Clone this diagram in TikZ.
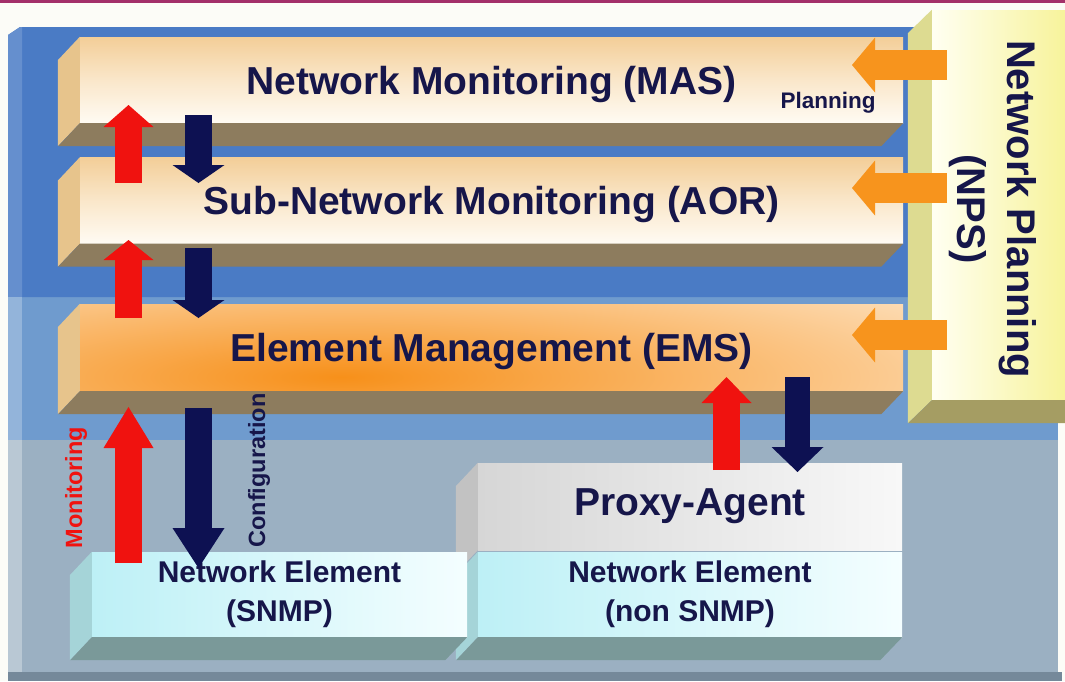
\documentclass[tikz,border=0pt]{standalone}
\usepackage{fontspec}
\setmainfont{Liberation Sans}
\usepackage{tikz}
\usetikzlibrary{arrows.meta}

\definecolor{pageback}{HTML}{FCFCF7}
\definecolor{topline}{HTML}{A3306A}
\definecolor{deepblue}{HTML}{4A7BC5}
\definecolor{midblue}{HTML}{6F9BCE}
\definecolor{greyblue}{HTML}{9BB0C2}
\definecolor{rimgrey}{HTML}{75899A}
\definecolor{labelnavy}{HTML}{16164A}
\definecolor{arrownavy}{HTML}{0D1152}
\definecolor{arrowred}{HTML}{F0120F}
\definecolor{arroworange}{HTML}{F7941D}
\definecolor{peach}{HTML}{F3CE98}
\definecolor{cream}{HTML}{FFFBF3}
\definecolor{tanside}{HTML}{E7C48C}
\definecolor{tanfloor}{HTML}{8D7C5E}
\definecolor{emsorange}{HTML}{F7901A}
\definecolor{iceblue}{HTML}{BDF0F6}
\definecolor{icewhite}{HTML}{F4FEFF}
\definecolor{iceside}{HTML}{A5D4D8}
\definecolor{icefloor}{HTML}{7A9999}
\definecolor{proxygrey}{HTML}{D6D6D6}
\definecolor{proxywhite}{HTML}{F8F8F8}
\definecolor{proxyside}{HTML}{C2C2C2}
\definecolor{npsyellow}{HTML}{F7F39B}
\definecolor{npswhite}{HTML}{FFFFF2}
\definecolor{npsside}{HTML}{DDDB91}
\definecolor{npsfloor}{HTML}{A59D63}

\begin{document}
\begin{tikzpicture}[x=1pt, y=-1pt,
  layer/.style={inner sep=0pt, minimum width=823pt, minimum height=86pt,
    top color=peach, bottom color=cream, middle color=peach!45!cream,
    text=labelnavy, font=\fontsize{39}{44}\selectfont\bfseries,
    text height=28pt, text depth=0pt},
  emslayer/.style={inner sep=0pt, minimum width=823pt, minimum height=87pt, fill=cream,
    text=labelnavy, font=\fontsize{39}{44}\selectfont\bfseries,
    text height=28pt, text depth=0pt,
    path picture={\shade[inner color=emsorange, outer color=cream]
      ([xshift=-150pt, yshift=14pt]path picture bounding box.south)
      ellipse [x radius=1000pt, y radius=175pt];}},
  netbox/.style={inner sep=0pt, minimum height=85pt, left color=iceblue, right color=icewhite,
    text=labelnavy, align=center, font=\fontsize{30}{39}\selectfont\bfseries},
  proxybox/.style={inner sep=0pt, minimum width=424pt, minimum height=87pt,
    left color=proxygrey, right color=proxywhite,
    text=labelnavy, font=\fontsize{39}{44}\selectfont\bfseries},
  npsface/.style={inner sep=0pt, minimum width=133pt, minimum height=390pt,
    left color=npswhite, right color=npsyellow},
  upflow/.style={color=arrowred, line width=27pt,
    -{Triangle[length=#1, width=50pt, line width=0pt]}},
  downflow/.style={color=arrownavy, line width=27pt,
    -{Triangle[length=#1, width=52pt, line width=0pt]}},
  planflow/.style={color=arroworange, line width=30pt,
    -{Triangle[length=23pt, width=55pt, line width=0pt]}},
  sidelabel/.style={rotate=90, inner sep=0pt, font=\fontsize{23.5}{26}\selectfont\bfseries}]

% page background and outer panel
\useasboundingbox (0,0) rectangle (1065,681);
\fill[pageback] (0,0) rectangle (1065,681);
\fill[topline] (0,0) rectangle (1065,2.5);
\fill[rimgrey] (8,672) rectangle (1062,681);
\fill[greyblue] (8,440) rectangle (1058,672);
\fill[midblue] (8,297) rectangle (1058,440);
\fill[deepblue] (8,35) -- (20,27) -- (1058,27) -- (1058,297) -- (8,297) -- cycle;
\fill[deepblue!85!white] (8,35) -- (20,27) -- (22,27) -- (22,297) -- (8,297) -- cycle;
\fill[midblue!75!white] (8,297) rectangle (22,440);
\fill[greyblue!70!white] (8,440) rectangle (22,672);

% draw the three management layers
\node[layer] (mas) at (491.5,80) {Network Monitoring (MAS)};
\fill[tanside] (mas.north west) -- (mas.south west) -- ++(-22,23) -- ++(0,-86) -- cycle;
\fill[tanfloor] (mas.south west) -- (mas.south east) -- ++(-22,23) -- ++(-823,0) -- cycle;

\node[layer] (aor) at (491.5,200.5) {Sub-Network Monitoring (AOR)};
\fill[tanside] (aor.north west) -- (aor.south west) -- ++(-22,23) -- ++(0,-86) -- cycle;
\fill[tanfloor] (aor.south west) -- (aor.south east) -- ++(-22,23) -- ++(-823,0) -- cycle;

\node[emslayer] (ems) at (491.5,347.5) {Element Management (EMS)};
\fill[tanside] (ems.north west) -- (ems.south west) -- ++(-22,23) -- ++(0,-87) -- cycle;
\fill[tanfloor] (ems.south west) -- (ems.south east) -- ++(-22,23) -- ++(-823,0) -- cycle;

% draw planning block
\node[npsface] (nps) at (998.5,205) {};
\fill[npsside] (nps.north west) -- (nps.south west) -- ++(-24,23) -- ++(0,-390) -- cycle;
\fill[npsfloor] (nps.south west) -- (nps.south east) -- ++(0,23) -- ++(-157,0) -- cycle;
\node[rotate=-90, inner sep=0pt, align=center, text=labelnavy,
  font=\fontsize{40}{50}\selectfont\bfseries] (npstext) at (993,209) {Network Planning\\(NPS)};

% draw proxy and network elements
\node[proxybox] (proxy) at (690,506.5) {Proxy-Agent};
\fill[proxyside] (proxy.north west) -- (proxy.south west) -- ++(-22,23) -- ++(0,-87) -- cycle;

\node[netbox, minimum width=424pt] (nenon) at (690,594.5) {Network Element\\(non SNMP)};
\fill[iceside] (nenon.north west) -- (nenon.south west) -- ++(-22,23) -- ++(0,-85) -- cycle;
\fill[icefloor] (nenon.south west) -- (nenon.south east) -- ++(-22,23) -- ++(-424,0) -- cycle;

\node[netbox, minimum width=375pt] (nesnmp) at (279.5,594.5) {Network Element\\(SNMP)};
\fill[iceside] (nesnmp.north west) -- (nesnmp.south west) -- ++(-22,23) -- ++(0,-85) -- cycle;
\fill[icefloor] (nesnmp.south west) -- (nesnmp.south east) -- ++(-22,23) -- ++(-375,0) -- cycle;

% arrow end points
\coordinate (mon1a) at (128.5,183);  \coordinate (mon1b) at (128.5,105);
\coordinate (cfg1a) at (198.5,115);  \coordinate (cfg1b) at (198.5,183);
\coordinate (mon2a) at (128.5,318);  \coordinate (mon2b) at (128.5,240);
\coordinate (cfg2a) at (198.5,248);  \coordinate (cfg2b) at (198.5,318);
\coordinate (mon3a) at (128.5,563);  \coordinate (mon3b) at (128.5,407);
\coordinate (cfg3a) at (198.5,408);  \coordinate (cfg3b) at (198.5,568);
\coordinate (mon4a) at (726.5,470);  \coordinate (mon4b) at (726.5,377);
\coordinate (cfg4a) at (797.5,377);  \coordinate (cfg4b) at (797.5,472);
\coordinate (plan1a) at (947,65);    \coordinate (plan1b) at (852,65);
\coordinate (plan2a) at (947,188);   \coordinate (plan2b) at (852,188);
\coordinate (plan3a) at (947,335);   \coordinate (plan3b) at (852,335);

% draw monitoring and configuration arrows
\draw[upflow=22pt] (mon1a) -- (mon1b);
\draw[downflow=18pt] (cfg1a) -- (cfg1b);
\draw[upflow=20pt] (mon2a) -- (mon2b);
\draw[downflow=18pt] (cfg2a) -- (cfg2b);
\draw[upflow=41pt] (mon3a) -- (mon3b);
\draw[downflow=40pt] (cfg3a) -- (cfg3b);
\draw[upflow=26pt] (mon4a) -- (mon4b);
\draw[downflow=25pt, line width=25pt] (cfg4a) -- (cfg4b);

% draw planning arrows
\draw[planflow] (plan1a) -- (plan1b);
\draw[planflow] (plan2a) -- (plan2b);
\draw[planflow] (plan3a) -- (plan3b);

% draw labels
\node[sidelabel, text=arrowred] (monlbl) at (76,487.5) {Monitoring};
\node[sidelabel, text=labelnavy] (cfglbl) at (259,470.5) {Configuration};
\node[inner sep=0pt, text=labelnavy, font=\fontsize{22.5}{26}\selectfont\bfseries]
  (planlbl) at (828,103) {Planning};

\end{tikzpicture}
\end{document}
